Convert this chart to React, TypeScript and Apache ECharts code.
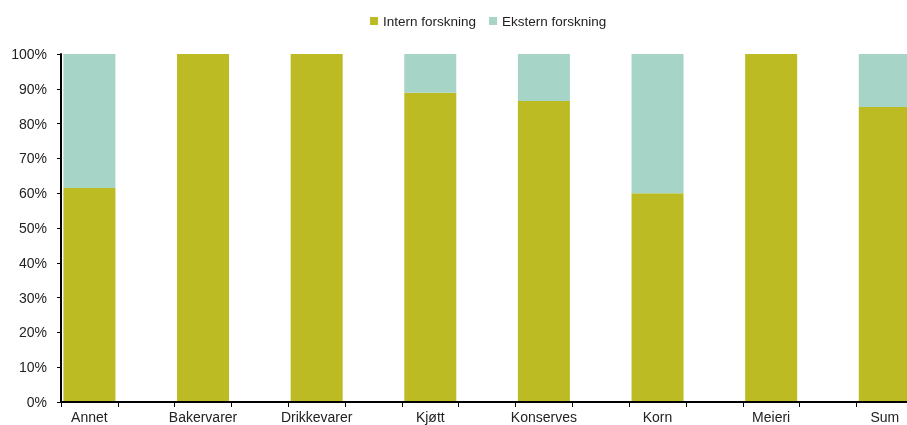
import React, { useEffect, useRef } from "react";
import * as echarts from "echarts";

const categories = ["Annet", "Bakervarer", "Drikkevarer", "Kjøtt", "Konserves", "Korn", "Meieri", "Sum"];
const internValues = [61.5, 100, 100, 88.9, 86.5, 60, 100, 84.8];
const eksternValues = [38.5, 0, 0, 11.1, 13.5, 40, 0, 15.2];
const yTicks = [0, 10, 20, 30, 40, 50, 60, 70, 80, 90, 100];

const FONT = "'Liberation Sans', Arial, sans-serif";

export default function App() {
  const ref = useRef<HTMLDivElement>(null);
  useEffect(() => {
    document.body.style.margin = "0";
    document.body.style.overflow = "hidden";
    if (!ref.current) return;
    const chart = echarts.init(ref.current, null, { renderer: "svg" });
    // each category is followed by an empty band, as in the original layout
    const axisData: string[] = [];
    const intern: (number | null)[] = [];
    const ekstern: (number | null)[] = [];
    categories.forEach((c, i) => {
      axisData.push(c);
      intern.push(internValues[i]);
      ekstern.push(eksternValues[i]);
      axisData.push("_gap" + i);
      intern.push(null);
      ekstern.push(null);
    });
    chart.setOption({
      animation: false,
      textStyle: { fontFamily: FONT },
      legend: {
        left: 365,
        top: 9,
        itemWidth: 8,
        itemHeight: 8,
        itemGap: 13,
        icon: "rect",
        textStyle: { fontFamily: FONT, fontSize: 13.5, color: "#222" },
        data: ["Intern forskning", "Ekstern forskning"],
      },
      grid: { left: 61, right: 10, top: 54, bottom: 23, containLabel: false },
      xAxis: {
        type: "category",
        data: axisData,
        z: 10,
        axisLine: { show: true, lineStyle: { color: "#000", width: 2 } },
        axisTick: { show: true, interval: 0, alignWithLabel: false, length: 5, lineStyle: { color: "#000", width: 1 } },
        axisLabel: {
          interval: 0,
          margin: 8,
          fontSize: 14,
          color: "#222",
          fontFamily: FONT,
          formatter: (v: string) => (v.startsWith("_gap") ? "" : v),
        },
        splitLine: { show: false },
      },
      yAxis: {
        type: "value",
        min: yTicks[0],
        max: yTicks[yTicks.length - 1],
        interval: 10,
        z: 10,
        axisLine: { show: true, lineStyle: { color: "#000", width: 2 } },
        axisTick: { show: true, length: 4, lineStyle: { color: "#000", width: 1 } },
        axisLabel: { margin: 14, fontSize: 14, color: "#222", fontFamily: FONT, formatter: "{value}%" },
        splitLine: { show: false },
      },
      series: [
        {
          name: "Intern forskning",
          type: "bar",
          stack: "total",
          barWidth: 52,
          itemStyle: { color: "#BDBB24" },
          data: intern,
        },
        {
          name: "Ekstern forskning",
          type: "bar",
          stack: "total",
          barWidth: 52,
          itemStyle: { color: "#A6D4C6" },
          data: ekstern,
        },
      ],
    });
    return () => chart.dispose();
  }, []);
  return (
    <div style={{ position: "fixed", left: 0, top: 0, width: 907, height: 425, overflow: "hidden" }}>
      <div ref={ref} style={{ width: 980, height: 425 }} />
    </div>
  );
}
